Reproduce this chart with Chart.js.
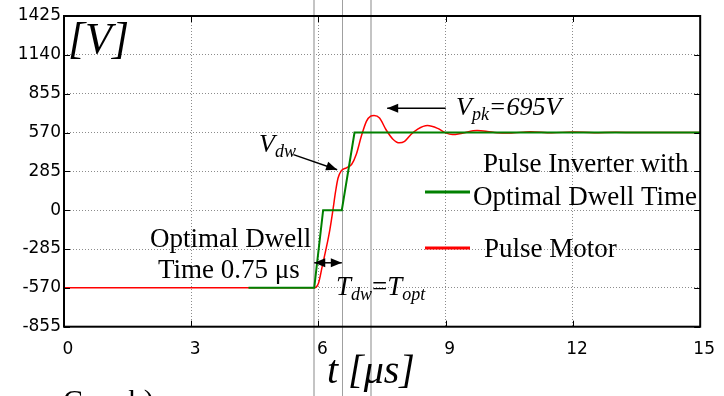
<!DOCTYPE html>
<html>
<head>
<meta charset="utf-8">
<script src="https://cdn.jsdelivr.net/npm/chart.js@4.4.1/dist/chart.umd.min.js"></script>
<style>
  html, body { margin: 0; padding: 0; background: #fff; }
  #wrap { width: 724px; height: 396px; position: relative; }
</style>
</head>
<body>
<div id="wrap"><canvas id="voltChart"></canvas></div>
<script>
// axis ticks: time [us], voltage [V]
const timeTicks = [0, 3, 6, 9, 12, 15];
const voltTicks = [-855, -570, -285, 0, 285, 570, 855, 1140, 1425];

// inverter output with the dwell step
const inverterTime = [4.35, 5.90, 6.11, 6.55, 6.85, 15];
const inverterVolt = [-570, -570, 0, 0, 570, 570];

// motor terminal voltage
const motorTime = [0, 5.90, 6.00, 6.09, 6.19, 6.27, 6.34, 6.40, 6.46, 6.54, 6.66, 6.78, 6.89, 7.01, 7.13, 7.23, 7.31,
  7.44, 7.59, 7.75, 7.91, 8.03, 8.18, 8.34, 8.57, 8.81, 9.00, 9.16, 9.39, 9.74, 9.98, 10.21, 10.5, 11.0, 11.5,
  12.0, 12.5, 13.0, 13.5, 14.0, 15.0];
const motorVolt = [-570, -570, -536, -410, -268, -140, 0, 130, 234, 290, 311, 335, 408, 542, 652, 690, 695,
  677, 592, 523, 494, 505, 555, 595, 621, 600, 567, 555, 565, 584, 578, 568, 566, 576, 568,
  574, 569, 572, 570, 571, 570];

// switching instants (vertical guide lines)
const markerTimes = [5.90, 6.55, 7.24];
const peakVolt = 695;
const dwellArrowVolt = -386;

const toPoints = (xs, ys) => xs.map((x, i) => ({ x: x, y: ys[i] }));

const serif = '"Liberation Serif", "Times New Roman", serif';

function arrowHead(ctx, x1, y1, x2, y2, len, half) {
    const a = Math.atan2(y2 - y1, x2 - x1);
    ctx.beginPath();
    ctx.moveTo(x2, y2);
    ctx.lineTo(x2 - len * Math.cos(a) + half * Math.sin(a), y2 - len * Math.sin(a) - half * Math.cos(a));
    ctx.lineTo(x2 - len * Math.cos(a) - half * Math.sin(a), y2 - len * Math.sin(a) + half * Math.cos(a));
    ctx.closePath();
    ctx.fill();
}

function arrow(ctx, x1, y1, x2, y2) {
    ctx.beginPath();
    ctx.moveTo(x1, y1);
    ctx.lineTo(x2, y2);
    ctx.stroke();
    arrowHead(ctx, x1, y1, x2, y2, 11, 4.5);
}

// text made of runs: [text, size, dy, italic]
function runs(ctx, x, y, parts) {
    parts.forEach(p => {
        ctx.font = (p[3] === false ? '' : 'italic ') + p[1] + 'px ' + serif;
        ctx.fillText(p[0], x, y + p[2]);
        x += ctx.measureText(p[0]).width;
    });
}

const guideLines = {
    id: 'guideLines',
    beforeDatasetsDraw(chart) {
        const { ctx, scales: { x } } = chart;
        ctx.save();
        markerTimes.forEach((t, i) => {
            const px = Math.round(x.getPixelForValue(t));
            ctx.strokeStyle = i === 1 ? '#a0a0a0' : '#c4c4c4';
            ctx.lineWidth = i === 1 ? 1 : 2;
            ctx.beginPath();
            ctx.moveTo(px + (i === 1 ? 0.5 : 0), 0);
            ctx.lineTo(px + (i === 1 ? 0.5 : 0), chart.height);
            ctx.stroke();
        });
        ctx.restore();
    }
};

const overlay = {
    id: 'overlay',
    afterDraw(chart) {
        const { ctx, chartArea: a, scales: { x, y } } = chart;
        ctx.save();

        // inward tick marks
        ctx.strokeStyle = '#000';
        ctx.lineWidth = 1;
        ctx.beginPath();
        x.ticks.forEach(t => {
            const px = Math.round(x.getPixelForValue(t.value)) + 0.5;
            ctx.moveTo(px, a.bottom); ctx.lineTo(px, a.bottom - 6);
            ctx.moveTo(px, a.top); ctx.lineTo(px, a.top + 6);
        });
        y.ticks.forEach(t => {
            const py = Math.round(y.getPixelForValue(t.value)) + 0.5;
            ctx.moveTo(a.left, py); ctx.lineTo(a.left + 6, py);
            ctx.moveTo(a.right, py); ctx.lineTo(a.right - 6, py);
        });
        ctx.stroke();

        // frame
        ctx.lineWidth = 2;
        ctx.strokeRect(a.left, a.top, a.right - a.left, a.bottom - a.top);

        ctx.fillStyle = '#000';
        ctx.textBaseline = 'alphabetic';
        ctx.textAlign = 'left';

        // axis titles
        runs(ctx, 68, 53, [['[V]', 44, 0]]);
        runs(ctx, 327, 383, [['t [μs]', 40, 0]]);
        runs(ctx, 63, 410, [['Case b)', 30, 0, false]]);

        // legend
        const inv = chart.data.datasets[0], mot = chart.data.datasets[1];
        ctx.lineWidth = 3;
        ctx.strokeStyle = inv.borderColor;
        ctx.beginPath(); ctx.moveTo(425, 192); ctx.lineTo(470, 192); ctx.stroke();
        ctx.strokeStyle = mot.borderColor;
        ctx.beginPath(); ctx.moveTo(425, 248); ctx.lineTo(470, 248); ctx.stroke();
        runs(ctx, 483, 172, [['Pulse Inverter with', 27, 0, false]]);
        runs(ctx, 473, 205, [['Optimal Dwell Time', 27, 0, false]]);
        runs(ctx, 484, 257, [['Pulse Motor', 27, 0, false]]);

        // dwell time annotation
        runs(ctx, 150, 247, [['Optimal Dwell', 27, 0, false]]);
        runs(ctx, 158, 278, [['Time 0.75 μs', 27, 0, false]]);
        ctx.strokeStyle = '#000';
        ctx.lineWidth = 1.5;
        const dx1 = x.getPixelForValue(markerTimes[0]), dx2 = x.getPixelForValue(markerTimes[1]);
        const dy = y.getPixelForValue(dwellArrowVolt);
        ctx.beginPath(); ctx.moveTo(dx1, dy); ctx.lineTo(dx2, dy); ctx.stroke();
        arrowHead(ctx, dx2, dy, dx1, dy, 11, 4.5);
        arrowHead(ctx, dx1, dy, dx2, dy, 11, 4.5);
        runs(ctx, 336, 295, [['T', 27, 0], ['dw', 18, 5], ['=', 27, 0, false], ['T', 27, 0], ['opt', 18, 5]]);

        // dwell plateau and peak
        arrow(ctx, x.getPixelForValue(5.41), y.getPixelForValue(408), x.getPixelForValue(6.44), y.getPixelForValue(297));
        runs(ctx, 259, 152, [['V', 26, 0], ['dw', 18, 5]]);
        arrow(ctx, x.getPixelForValue(9.0), y.getPixelForValue(748), x.getPixelForValue(7.62), y.getPixelForValue(748));
        runs(ctx, 456, 115, [['V', 26, 0], ['pk', 18, 5], ['=' + peakVolt + 'V', 26, 0]]);

        ctx.restore();
    }
};

const tickFont = { family: '"DejaVu Sans"', size: 17 };

const config = {
    type: 'scatter',
    data: {
        datasets: [{
            label: 'Pulse Inverter with Optimal Dwell Time',
            data: toPoints(inverterTime, inverterVolt),
            showLine: true,
            borderColor: 'rgb(0, 128, 0)',
            borderWidth: 2,
            pointRadius: 0,
            tension: 0,
            order: 0
        }, {
            label: 'Pulse Motor',
            data: toPoints(motorTime, motorVolt),
            showLine: true,
            borderColor: 'rgb(255, 0, 0)',
            borderWidth: 1.5,
            pointRadius: 0,
            cubicInterpolationMode: 'monotone',
            order: 1
        }]
    },
    options: {
        responsive: true,
        maintainAspectRatio: false,
        animation: false,
        layout: { padding: { top: 16, right: 20, left: 0, bottom: 0 } },
        plugins: { legend: { display: false }, tooltip: { enabled: false } },
        scales: {
            x: {
                type: 'linear',
                min: timeTicks[0],
                max: timeTicks[timeTicks.length - 1],
                afterBuildTicks: s => { s.ticks = timeTicks.map(v => ({ value: v })); },
                afterFit: s => { s.height = 69.3; },
                border: { display: false },
                grid: { color: '#8c8c8c', lineWidth: 1, drawTicks: false },
                ticks: { padding: 13, labelOffset: 4, color: '#000', font: tickFont, callback: v => String(v) }
            },
            y: {
                type: 'linear',
                min: voltTicks[0],
                max: voltTicks[voltTicks.length - 1],
                afterBuildTicks: s => { s.ticks = voltTicks.map(v => ({ value: v })); },
                afterFit: s => { s.width = 64; },
                border: { display: false },
                grid: { color: '#8c8c8c', lineWidth: 1, drawTicks: false },
                ticks: { padding: 3, color: '#000', font: tickFont, callback: v => String(v) }
            }
        }
    },
    plugins: [guideLines, overlay]
};

// dotted grid
config.options.scales.x.border.dash = [1, 2];
config.options.scales.y.border.dash = [1, 2];

new Chart(document.getElementById('voltChart'), config);
</script>
</body>
</html>
